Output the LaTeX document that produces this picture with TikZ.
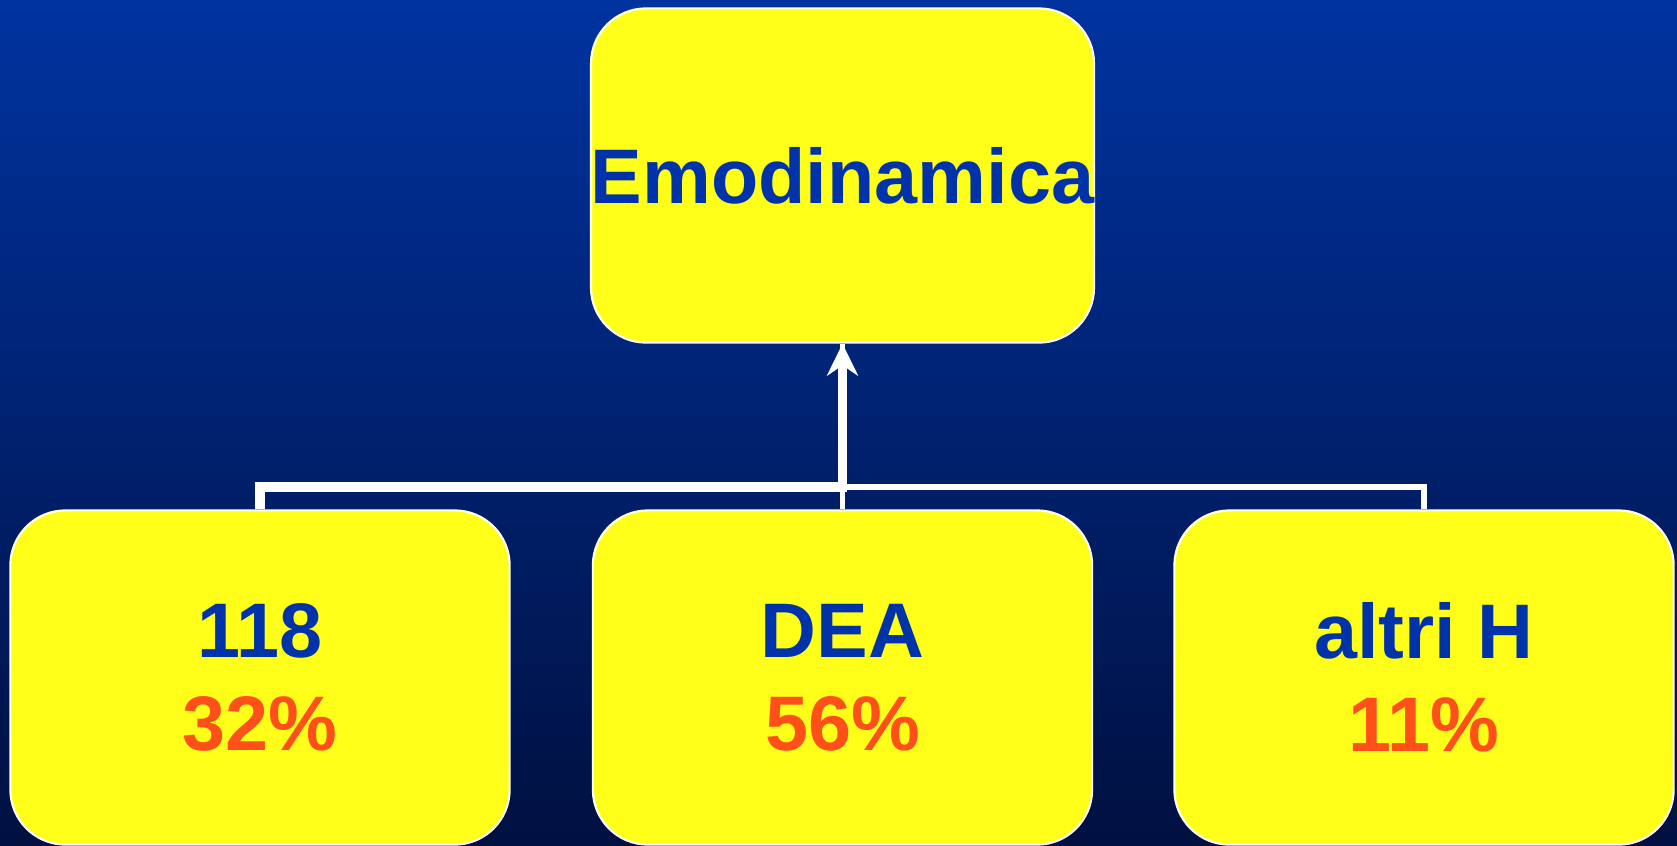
\documentclass[tikz,border=0pt]{standalone}
\usepackage{fontspec}
\setmainfont{Liberation Sans}
\usetikzlibrary{arrows.meta}

\definecolor{bgtop}{RGB}{0,51,160}
\definecolor{bgbottom}{RGB}{0,16,64}
\definecolor{boxyellow}{RGB}{255,255,25}
\definecolor{textblue}{RGB}{0,51,170}
\definecolor{textorange}{RGB}{255,80,26}

\begin{document}
\begin{tikzpicture}[x=0.01cm, y=-0.01cm,
        card/.style={draw=white, line width=0.6pt, fill=boxyellow, rounded corners=0.55cm,
            minimum width=4.99cm, minimum height=3.34cm, inner sep=0pt, align=center,
            font=\fontsize{22}{26.5}\selectfont\bfseries, text=textblue},
        link/.style={draw=white, line cap=butt}]
    % background
    \shade[top color=bgtop, bottom color=bgbottom] (0, 0) rectangle (1677, 845);
    \useasboundingbox (0, 0) rectangle (1677, 845);

    \node[card] (emo) at (842.5, 175.5) {Emodinamica};
    \node[card] (c118) at (260, 677.5) {118\\\textcolor{textorange}{32\%}};
    \node[card] (dea) at (842.5, 677.5) {DEA\\\textcolor{textorange}{56\%}};
    \node[card] (altri) at (1424, 677.5) {altri H\\\textcolor{textorange}{11\%}};

    \coordinate (bar) at (842.5, 487);

    \draw[link, line width=1.7pt] (altri.north) |- (bar);
    \draw[link, line width=1.4pt] (dea.north) -- (emo.south);
    \draw[link, line width=2.8pt, -{Stealth[length=3.2mm, width=3.1mm]}] (c118.north) |- (bar) -- (emo.south);
\end{tikzpicture}
\end{document}
